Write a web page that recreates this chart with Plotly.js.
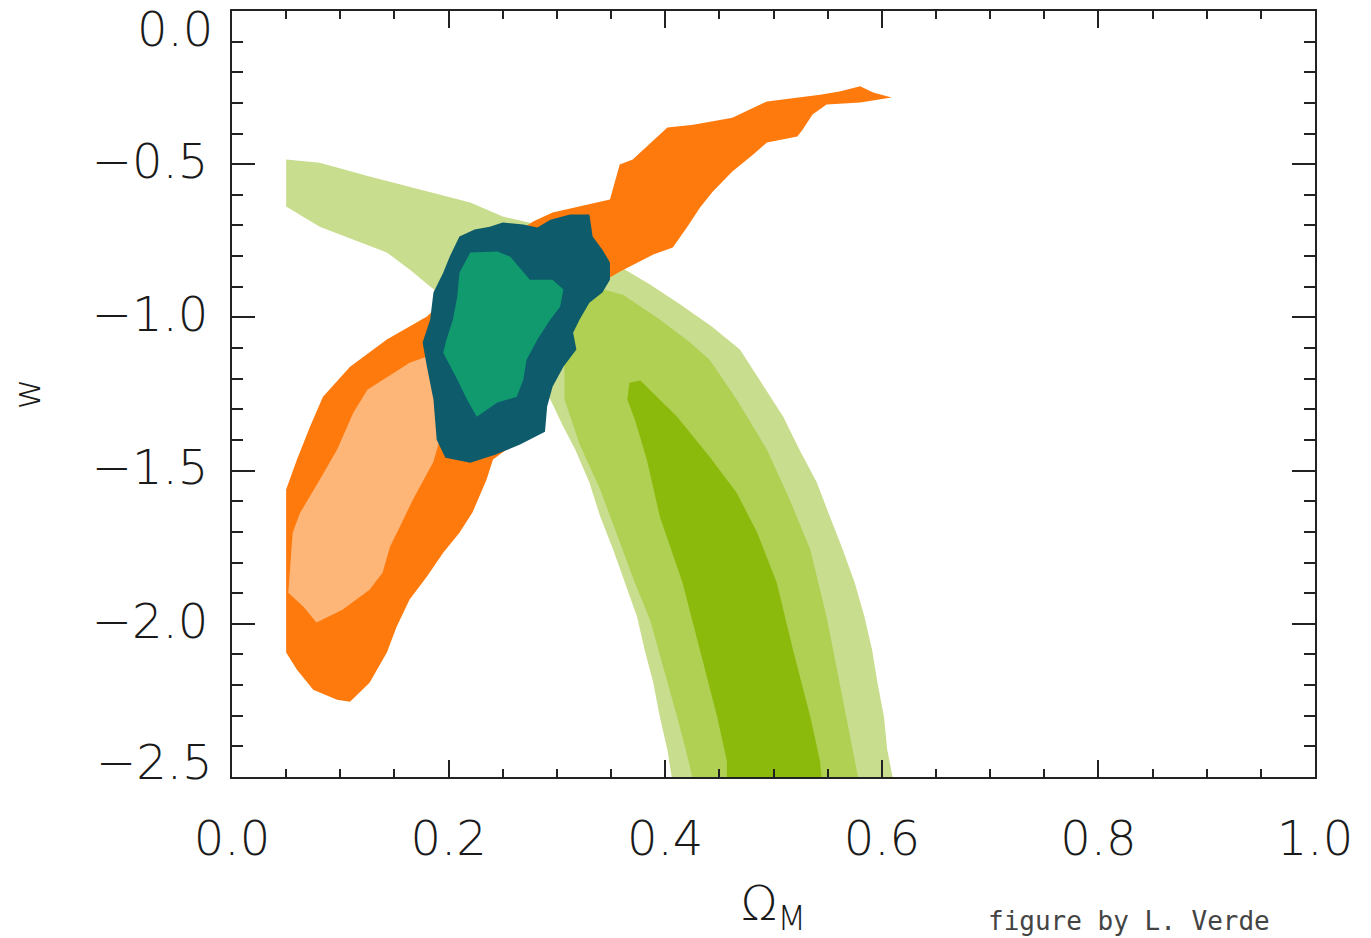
<!DOCTYPE html>
<html>
<head>
<meta charset="utf-8">
<script src="https://cdn.plot.ly/plotly-3.0.1.min.js"></script>
<style>html,body{margin:0;padding:0;background:#fff;}#chart{width:1371px;height:938px;}</style>
</head>
<body>
<div id="chart"></div>
<script>
// Axis ticks
const xTickVals = [0, 0.2, 0.4, 0.6, 0.8, 1.0];
const xTickText = ['0.0', '0.2', '0.4', '0.6', '0.8', '1.0'];
const yTickVals = [0, -0.5, -1.0, -1.5, -2.0, -2.5];
const yTickText = ['0.0', '\u22120.5', '\u22121.0', '\u22121.5', '\u22122.0', '\u22122.5'];

// Contour outlines [Omega_M, w]
const sn95 = [[0.05,-0.485],[0.081,-0.495],[0.127,-0.540],[0.174,-0.583],[0.220,-0.625],[0.250,-0.671],[0.275,-0.691],[0.312,-0.746],[0.340,-0.795],[0.358,-0.834],[0.386,-0.893],[0.414,-0.958],[0.443,-1.030],[0.469,-1.105],[0.489,-1.213],[0.509,-1.324],[0.524,-1.432],[0.540,-1.539],[0.552,-1.650],[0.564,-1.758],[0.575,-1.866],[0.584,-1.977],[0.591,-2.085],[0.596,-2.192],[0.602,-2.303],[0.605,-2.411],[0.610,-2.5],[0.612,-2.574],[0.406,-2.574],[0.406,-2.5],[0.402,-2.411],[0.395,-2.303],[0.389,-2.192],[0.381,-2.085],[0.374,-1.977],[0.363,-1.866],[0.352,-1.758],[0.340,-1.650],[0.330,-1.539],[0.317,-1.432],[0.305,-1.350],[0.294,-1.268],[0.247,-1.072],[0.183,-0.899],[0.164,-0.844],[0.143,-0.788],[0.112,-0.746],[0.081,-0.704],[0.05,-0.638]];
const sn68 = [[0.326,-0.893],[0.361,-0.926],[0.395,-1.007],[0.423,-1.082],[0.441,-1.138],[0.466,-1.268],[0.494,-1.432],[0.515,-1.595],[0.534,-1.758],[0.549,-1.977],[0.561,-2.192],[0.570,-2.356],[0.578,-2.5],[0.580,-2.574],[0.425,-2.574],[0.425,-2.5],[0.419,-2.411],[0.411,-2.303],[0.398,-2.140],[0.386,-1.987],[0.372,-1.866],[0.354,-1.693],[0.340,-1.562],[0.321,-1.415],[0.307,-1.268],[0.307,-1.170],[0.303,-1.040]];
const snCore = [[0.367,-1.213],[0.377,-1.206],[0.411,-1.324],[0.441,-1.455],[0.466,-1.572],[0.485,-1.703],[0.503,-1.866],[0.518,-2.085],[0.534,-2.303],[0.543,-2.449],[0.546,-2.574],[0.457,-2.574],[0.457,-2.449],[0.448,-2.303],[0.432,-2.085],[0.416,-1.866],[0.395,-1.650],[0.383,-1.464],[0.372,-1.334],[0.365,-1.268]];
const cmb95 = [[0.05,-1.562],[0.05,-2.094],[0.060,-2.150],[0.075,-2.215],[0.097,-2.248],[0.109,-2.254],[0.127,-2.192],[0.143,-2.094],[0.152,-2.010],[0.164,-1.921],[0.180,-1.846],[0.195,-1.768],[0.210,-1.703],[0.222,-1.637],[0.235,-1.530],[0.241,-1.464],[0.266,-1.399],[0.284,-1.268],[0.307,-1.072],[0.335,-0.909],[0.349,-0.870],[0.358,-0.851],[0.389,-0.795],[0.407,-0.772],[0.420,-0.707],[0.432,-0.642],[0.444,-0.589],[0.462,-0.524],[0.481,-0.469],[0.494,-0.429],[0.522,-0.410],[0.527,-0.387],[0.536,-0.338],[0.549,-0.305],[0.580,-0.299],[0.609,-0.282],[0.592,-0.266],[0.580,-0.246],[0.561,-0.263],[0.543,-0.273],[0.494,-0.295],[0.462,-0.348],[0.426,-0.371],[0.402,-0.380],[0.370,-0.485],[0.358,-0.501],[0.349,-0.615],[0.328,-0.632],[0.296,-0.658],[0.278,-0.687],[0.247,-0.762],[0.201,-0.909],[0.192,-0.958],[0.180,-0.997],[0.143,-1.072],[0.109,-1.161],[0.084,-1.259],[0.072,-1.357],[0.060,-1.464]];
const cmb68 = [[0.192,-1.040],[0.180,-1.128],[0.164,-1.148],[0.125,-1.236],[0.112,-1.311],[0.097,-1.432],[0.081,-1.530],[0.063,-1.637],[0.056,-1.703],[0.054,-1.814],[0.052,-1.899],[0.066,-1.944],[0.078,-1.996],[0.102,-1.954],[0.127,-1.889],[0.139,-1.833],[0.146,-1.748],[0.155,-1.683],[0.167,-1.595],[0.186,-1.471],[0.197,-1.334],[0.197,-1.072]];
const joint95 = [[0.210,-0.736],[0.224,-0.713],[0.238,-0.704],[0.250,-0.690],[0.269,-0.697],[0.282,-0.707],[0.294,-0.681],[0.312,-0.664],[0.330,-0.664],[0.333,-0.736],[0.342,-0.779],[0.349,-0.821],[0.349,-0.877],[0.342,-0.919],[0.330,-0.952],[0.321,-1.007],[0.315,-1.050],[0.318,-1.105],[0.306,-1.161],[0.296,-1.226],[0.291,-1.291],[0.289,-1.373],[0.266,-1.415],[0.243,-1.448],[0.220,-1.474],[0.197,-1.458],[0.189,-1.399],[0.186,-1.268],[0.180,-1.161],[0.176,-1.082],[0.183,-1.007],[0.186,-0.919],[0.195,-0.854],[0.201,-0.802]];
const joint68 = [[0.220,-0.788],[0.245,-0.785],[0.257,-0.802],[0.269,-0.854],[0.275,-0.877],[0.296,-0.877],[0.306,-0.909],[0.303,-0.965],[0.294,-1.007],[0.282,-1.072],[0.272,-1.138],[0.269,-1.203],[0.263,-1.259],[0.245,-1.278],[0.226,-1.324],[0.217,-1.268],[0.208,-1.203],[0.195,-1.115],[0.198,-1.072],[0.204,-1.007],[0.208,-0.932],[0.210,-0.854]];

const regions = [
  {pts: sn95, color: '#C8DD8E'},
  {pts: sn68, color: '#AFD052'},
  {pts: snCore, color: '#8CBA0C'},
  {pts: cmb95, color: '#FF7A0D'},
  {pts: cmb68, color: '#FDB678'},
  {pts: joint95, color: '#0D5B6B'},
  {pts: joint68, color: '#109A6E'}
];

const traces = regions.map(r => ({
  type: 'scatter',
  mode: 'lines',
  x: r.pts.map(p => p[0]).concat([r.pts[0][0]]),
  y: r.pts.map(p => p[1]).concat([r.pts[0][1]]),
  fill: 'toself',
  fillcolor: r.color,
  line: {width: 0, color: r.color},
  hoverinfo: 'skip',
  showlegend: false
}));

const axisColor = '#222';
const tickFont = {family: 'DejaVu Sans, sans-serif', size: 48, color: '#1a1a1a', weight: 200};
const lastY = yTickVals.length - 1;

const layout = {
  width: 1371,
  height: 938,
  margin: {l: 232, r: 56, t: 11, b: 161, pad: 0},
  paper_bgcolor: '#ffffff',
  plot_bgcolor: '#ffffff',
  showlegend: false,
  xaxis: {
    range: [0, 1],
    tickmode: 'array',
    tickvals: xTickVals,
    ticktext: xTickText,
    ticks: 'inside',
    ticklen: 17,
    tickwidth: 2,
    tickcolor: axisColor,
    showline: true,
    linewidth: 2,
    linecolor: axisColor,
    mirror: 'allticks',
    showgrid: false,
    zeroline: false,
    minor: {tick0: 0, dtick: 0.05, ticks: 'inside', ticklen: 8, tickwidth: 2, tickcolor: axisColor, showgrid: false},
    tickfont: tickFont,
    ticklabelstandoff: 18,
    title: {text: '\u03A9<sub>M</sub>', font: {family: 'DejaVu Sans, sans-serif', size: 48, color: '#1a1a1a', weight: 200}, standoff: 26},
    fixedrange: true
  },
  yaxis: {
    range: [-2.5, 0],
    tickmode: 'array',
    tickvals: yTickVals.slice(1, lastY),
    ticktext: yTickText.slice(1, lastY),
    ticks: 'inside',
    ticklen: 23,
    tickwidth: 2,
    tickcolor: axisColor,
    showline: true,
    linewidth: 2,
    linecolor: axisColor,
    mirror: 'allticks',
    showgrid: false,
    zeroline: false,
    minor: {tick0: 0, dtick: 0.1, ticks: 'inside', ticklen: 11, tickwidth: 2, tickcolor: axisColor, showgrid: false},
    tickfont: tickFont,
    ticklabelstandoff: 12,
    ticklabelshift: -3,
    title: {text: 'w', font: {family: 'DejaVu Sans, sans-serif', size: 38, color: '#1a1a1a', weight: 200}, standoff: 40},
    fixedrange: true
  },
  annotations: [
    {xref: 'paper', yref: 'y', x: 0, y: yTickVals[0], text: yTickText[0], showarrow: false,
     xanchor: 'right', yanchor: 'middle', xshift: -17, yshift: -18, font: tickFont},
    {xref: 'paper', yref: 'y', x: 0, y: yTickVals[lastY], text: yTickText[lastY], showarrow: false,
     xanchor: 'right', yanchor: 'middle', xshift: -17, yshift: 15, font: tickFont},
    {xref: 'paper', yref: 'paper', x: 0.828, y: -0.188, text: 'figure by L. Verde', showarrow: false,
     xanchor: 'center', yanchor: 'middle', font: {family: 'DejaVu Sans Mono, monospace', size: 26, color: '#444'}}
  ]
};

Plotly.newPlot('chart', traces, layout, {staticPlot: true, displayModeBar: false});
</script>
</body>
</html>
